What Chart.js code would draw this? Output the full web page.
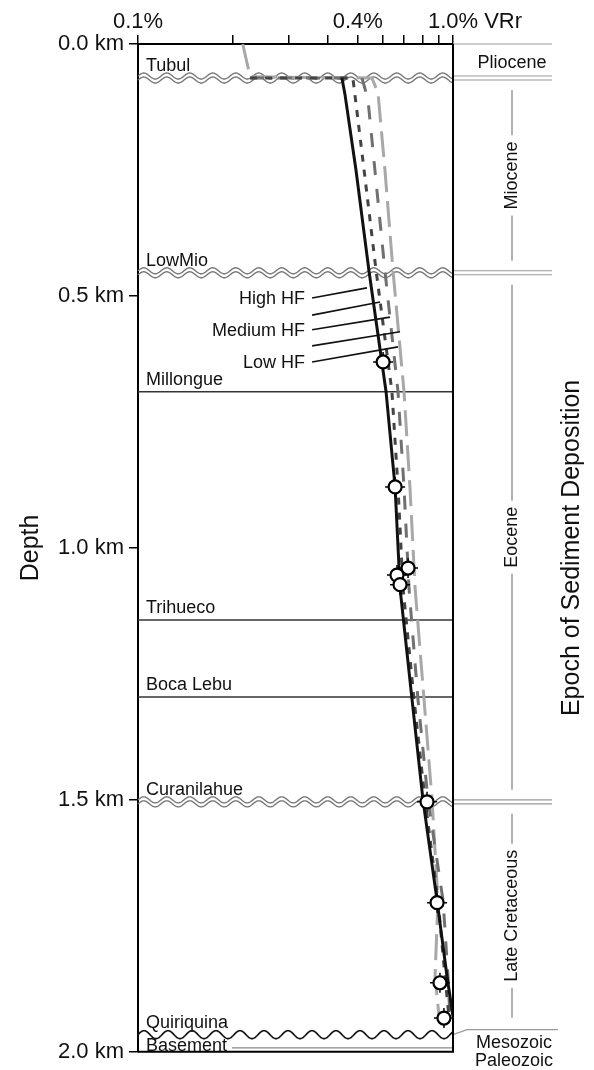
<!DOCTYPE html>
<html><head><meta charset="utf-8">
<script src="https://cdn.jsdelivr.net/npm/chart.js@4/dist/chart.umd.min.js"></script>
<style>html,body{margin:0;padding:0;background:#fff;}canvas{display:block;}</style>
</head><body>
<canvas id="c" width="594" height="1070"></canvas>
<script>
// ---------- data ----------
const vrTicks = [0.1,0.2,0.3,0.4,0.5,0.6,0.7,0.8,0.9,1.0];
const vrTickLabels = ['0.1%','0.4%','1.0%'];
const vrLabelValues = [0.1,0.4,1.0];
const depthTicks = [0,0.5,1.0,1.5,2.0];

// modelled VRr curves (depth km, VRr %)
const highDepth = [0.0675,0.1,0.25,0.45,0.69,0.88,1.08,1.3,1.5,1.7,1.85,1.93];
const highVR    = [0.444,0.454,0.492,0.541,0.613,0.655,0.679,0.741,0.803,0.890,0.957,1.0];
const midHighDepth = [0.0675,0.0675,0.25,0.45,0.69,0.88,1.08,1.3,1.5,1.7,1.85,1.93];
const midHighVR    = [0.227,0.481,0.522,0.570,0.640,0.669,0.694,0.752,0.815,0.896,0.943,0.971];
const mediumDepth = [0.0675,0.0675,0.11,0.25,0.45,0.69,0.88,1.08,1.3,1.5,1.7,1.85,1.93];
const mediumVR    = [0.227,0.514,0.537,0.565,0.608,0.669,0.699,0.725,0.774,0.833,0.930,0.964,0.978];
const lowDepth = [0,0.065,0.0675,0.097,0.25,0.45,0.69,0.88,1.08,1.3,1.5,1.7,1.85,1.93];
const lowVR    = [0.215,0.227,0.553,0.578,0.608,0.645,0.699,0.730,0.758,0.809,0.858,0.896,0.877,0.903];

// measured samples
const sampleDepth = [0.631,0.879,1.040,1.054,1.073,1.504,1.704,1.863,1.933];
const sampleVR    = [0.600,0.655,0.720,0.664,0.679,0.827,0.890,0.909,0.936];

// formations
const formations   = ['Tubul','LowMio','Millongue','Trihueco','Boca Lebu','Curanilahue','Quiriquina'];
const formationBaseKm = [0.0675,0.454,0.690,1.143,1.296,1.504,1.966];
const unconformity = [true,true,false,false,false,true,true];
const basementLabel = 'Basement';

// epochs
const epochs     = ['Pliocene','Miocene','Eocene','Late Cretaceous'];
const epochTopKm = [0,0.0675,0.454,1.504];
const epochBaseKm= [0.0675,0.454,1.504,1.956];

// heat-flow annotation (labels and pointer lines, in data units)
const hfLabels = ['High HF','Medium HF','Low HF'];
const hfLabelDepth = [0.504,0.567,0.631];
const hfPtrStartDepth = [0.504,0.538,0.567,0.599,0.631];
const hfPtrEndVR = [0.533,0.587,0.631,0.679,0.669];
const hfPtrEndDepth = [0.484,0.512,0.542,0.571,0.601];
const hfLabelVR = 0.339, hfPtrStartVR = 0.357;

// ---------- drawing ----------
const FONT = "'Liberation Sans', Arial, Helvetica, sans-serif";
const pts = (d, v) => d.map((dd, i) => ({x: v[i], y: dd}));

function wave(ctx, x0, x1, y, amp, period) {
  ctx.beginPath();
  for (let x = x0; x <= x1 + 0.01; x += 0.5) {
    const yy = y - amp * Math.sin(2 * Math.PI * (x - x0) / period);
    if (x === x0) ctx.moveTo(x, yy); else ctx.lineTo(x, yy);
  }
  ctx.stroke();
}
function hline(ctx, x0, x1, y) { ctx.beginPath(); ctx.moveTo(x0, y); ctx.lineTo(x1, y); ctx.stroke(); }

const decor = {
  id: 'decor',
  beforeDraw(chart) {
    const c = chart.ctx; c.save(); c.fillStyle = '#fff'; c.fillRect(0, 0, chart.width, chart.height); c.restore();
  },
  beforeDatasetsDraw(chart) {
    const c = chart.ctx, a = chart.chartArea, ys = chart.scales.y;
    const L = a.left, R = a.right, RX = 552;
    c.save();
    formationBaseKm.forEach((d, i) => {
      const y = ys.getPixelForValue(d);
      if (unconformity[i]) {
        if (i === formations.length - 1) {
          c.strokeStyle = '#111'; c.lineWidth = 1.6; wave(c, L, R, y, 4, 24);
        } else {
          c.strokeStyle = '#777'; c.lineWidth = 1.4;
          wave(c, L, R, y - 2, 3, 23); wave(c, L, R, y + 2, 3, 23);
        }
      } else {
        c.strokeStyle = '#333'; c.lineWidth = 1.6; hline(c, L, R, y);
      }
    });
    c.strokeStyle = '#888'; c.lineWidth = 1.2; hline(c, 232, R, a.bottom - 4);
    c.strokeStyle = '#999'; c.lineWidth = 1.2;
    hline(c, R, RX, ys.getPixelForValue(0));
    [epochTopKm[1], epochTopKm[2], epochTopKm[3]].forEach(d => {
      const y = ys.getPixelForValue(d);
      hline(c, R, RX, y - 2); hline(c, R, RX, y + 2);
    });
    const yq = ys.getPixelForValue(formationBaseKm[6]);
    const ym = ys.getPixelForValue(epochBaseKm[3]);
    c.beginPath(); c.moveTo(R, yq); c.lineTo(R + 14, ym); c.lineTo(558, ym); c.stroke();
    c.fillStyle = '#111'; c.font = '18px ' + FONT; c.textAlign = 'center';
    const ex = 512;
    epochs.forEach((name, i) => {
      const y0 = ys.getPixelForValue(epochTopKm[i]), y1 = ys.getPixelForValue(epochBaseKm[i]);
      const cy = (y0 + y1) / 2;
      if (i === 0) { c.textBaseline = 'alphabetic'; c.fillText(name, ex, cy + 6.5); return; }
      const half = c.measureText(name).width / 2;
      c.strokeStyle = '#999'; c.lineWidth = 1.5;
      c.beginPath(); c.moveTo(ex, y0 + 12); c.lineTo(ex, cy - half - 6);
      c.moveTo(ex, cy + half + 6); c.lineTo(ex, y1 - 12); c.stroke();
      c.save(); c.translate(ex, cy); c.rotate(-Math.PI / 2); c.textBaseline = 'middle';
      c.fillText(name, 0, 0); c.restore();
    });
    c.textBaseline = 'alphabetic';
    c.fillText('Mesozoic', 514, 1048);
    c.fillText('Paleozoic', 514, 1066);
    c.restore();
  },
  afterDatasetsDraw(chart) {
    const c = chart.ctx, a = chart.chartArea, ys = chart.scales.y, xs = chart.scales.x;
    c.save();
    c.strokeStyle = '#000'; c.lineWidth = 2;
    c.beginPath(); c.moveTo(a.right, a.top); c.lineTo(a.right, a.bottom); c.lineTo(a.left, a.bottom); c.stroke();
    c.fillStyle = '#111'; c.font = '18px ' + FONT; c.textAlign = 'left'; c.textBaseline = 'alphabetic';
    formations.forEach((n, i) => c.fillText(n, a.left + 8, ys.getPixelForValue(formationBaseKm[i]) - 7));
    c.fillText(basementLabel, a.left + 8, a.bottom - 1);
    c.strokeStyle = '#111'; c.lineWidth = 1.6;
    hfPtrStartDepth.forEach((d, i) => {
      c.beginPath();
      c.moveTo(xs.getPixelForValue(hfPtrStartVR), ys.getPixelForValue(d));
      c.lineTo(xs.getPixelForValue(hfPtrEndVR[i]), ys.getPixelForValue(hfPtrEndDepth[i]));
      c.stroke();
    });
    c.textAlign = 'right';
    hfLabels.forEach((n, i) => c.fillText(n, xs.getPixelForValue(hfLabelVR), ys.getPixelForValue(hfLabelDepth[i]) + 6.5));
    c.font = '22px ' + FONT; c.fillStyle = '#111';
    c.textAlign = 'center'; c.fillText(vrTickLabels[0], xs.getPixelForValue(vrLabelValues[0]), 28);
    c.textAlign = 'left'; c.fillText(vrTickLabels[1], xs.getPixelForValue(vrLabelValues[1]) + 5, 28);
    const w = c.measureText(vrTickLabels[2]).width;
    c.fillText(vrTickLabels[2] + ' VRr', xs.getPixelForValue(vrLabelValues[2]) - w / 2, 28);
    c.font = '25px ' + FONT; c.textAlign = 'center'; c.textBaseline = 'middle';
    c.translate(572, (a.top + a.bottom) / 2); c.rotate(-Math.PI / 2);
    c.fillText('Epoch of Sediment Deposition', 0, 0);
    c.restore();
  }
};

new Chart(document.getElementById('c').getContext('2d'), {
  type: 'scatter',
  data: {
    datasets: [
      { label: 'VRr samples', data: pts(sampleDepth, sampleVR), pointStyle: 'circle', pointRadius: 6.5,
        pointBackgroundColor: '#fff', pointBorderColor: '#000', pointBorderWidth: 2.2, showLine: false },
      { label: 'error', data: pts(sampleDepth, sampleVR), pointStyle: 'cross', pointRadius: 10,
        pointBorderColor: '#000', pointBorderWidth: 1.5, showLine: false },
      { label: 'High HF', data: pts(highDepth, highVR), showLine: true, pointRadius: 0,
        borderColor: '#111', borderWidth: 3 },
      { label: 'Medium-high HF', data: pts(midHighDepth, midHighVR), showLine: true, pointRadius: 0,
        borderColor: '#444', borderWidth: 3, borderDash: [7, 8] },
      { label: 'Medium HF', data: pts(mediumDepth, mediumVR), showLine: true, pointRadius: 0,
        borderColor: '#707070', borderWidth: 3, borderDash: [14, 14] },
      { label: 'Low HF', data: pts(lowDepth, lowVR), showLine: true, pointRadius: 0,
        borderColor: '#a8a8a8', borderWidth: 3, borderDash: [26, 9] }
    ]
  },
  options: {
    responsive: false, devicePixelRatio: 1, animation: false,
    layout: { padding: { left: 0, top: 0, right: 141, bottom: 18 } },
    plugins: { legend: { display: false }, tooltip: { enabled: false } },
    scales: {
      x: {
        type: 'logarithmic', position: 'top', min: 0.1, max: 1.0,
        afterBuildTicks: s => { s.ticks = vrTicks.map(v => ({ value: v })); },
        afterFit: s => { s.height = 44; },
        ticks: { display: false },
        grid: { drawOnChartArea: false, drawTicks: true, tickLength: 9, color: '#000', lineWidth: 1.5 },
        border: { color: '#000', width: 2 }
      },
      y: {
        type: 'linear', reverse: true, min: 0, max: 2,
        afterBuildTicks: s => { s.ticks = depthTicks.map(v => ({ value: v })); },
        afterFit: s => { s.width = 138; },
        ticks: { callback: v => Number(v).toFixed(1) + ' km', font: { family: FONT, size: 22 }, color: '#111', padding: 5 },
        grid: { drawOnChartArea: false, tickLength: 9, color: '#000', lineWidth: 1.5 },
        border: { color: '#000', width: 2 },
        title: { display: true, text: 'Depth', font: { family: FONT, size: 25 }, color: '#111', padding: { top: 16, bottom: 0 } }
      }
    }
  },
  plugins: [decor]
});
</script>
</body></html>
